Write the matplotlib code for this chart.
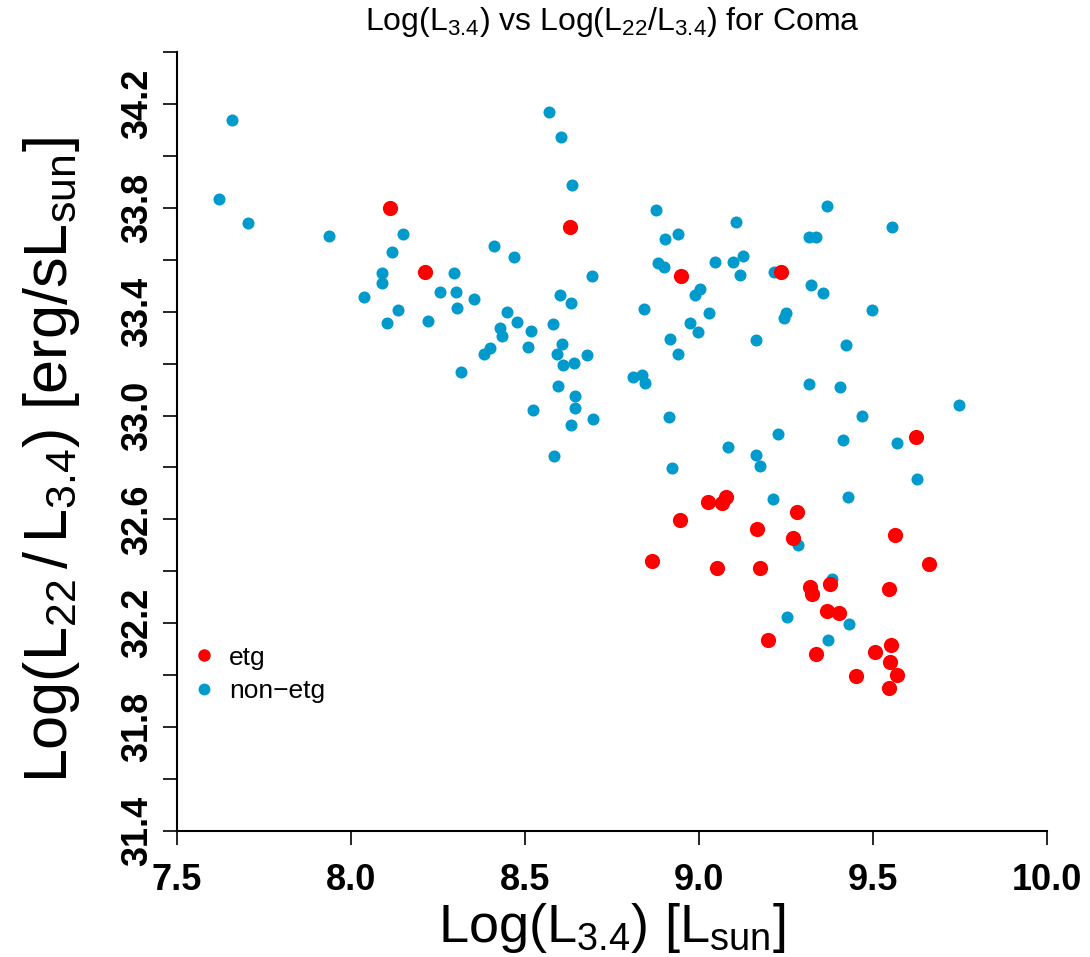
import numpy as np
import matplotlib
matplotlib.use('Agg')
import matplotlib.pyplot as plt
from matplotlib.lines import Line2D

plt.rcParams['font.family'] = ['Liberation Sans', 'DejaVu Sans']
plt.rcParams['mathtext.fontset'] = 'custom'
plt.rcParams['mathtext.rm'] = 'Liberation Sans'
plt.rcParams['mathtext.it'] = 'Liberation Sans:italic'
plt.rcParams['mathtext.bf'] = 'Liberation Sans:bold'

# early type galaxies
x_etg = [8.112, 8.214, 8.628, 8.947, 9.235, 9.623, 9.025, 9.065, 9.077, 9.283,
         8.946, 9.167, 9.270, 9.564, 8.866, 9.052, 9.176, 9.662, 9.376, 9.318,
         9.326, 9.547, 9.368, 9.401, 9.198, 9.551, 9.507, 9.337, 9.548, 9.569,
         9.451, 9.546]
y_etg = [33.800, 33.552, 33.726, 33.539, 33.552, 32.919, 32.666, 32.662, 32.688, 32.629,
         32.599, 32.563, 32.529, 32.540, 32.439, 32.412, 32.412, 32.430, 32.350, 32.341,
         32.314, 32.331, 32.249, 32.239, 32.136, 32.117, 32.089, 32.081, 32.049, 31.999,
         31.995, 31.951]

# everything else
x_non = [7.659, 7.621, 7.703, 7.937, 8.149, 8.117, 8.088, 8.090, 8.297, 8.036,
         8.135, 8.103, 8.222, 8.256, 8.301, 8.306, 8.316, 8.693, 9.118, 8.354,
         8.600, 8.633, 8.843, 9.003, 8.989, 9.028, 8.447, 8.476, 8.429, 8.434,
         8.518, 8.580, 8.509, 8.399, 8.381, 8.607, 8.591, 8.608, 8.640, 8.677,
         8.594, 8.644, 8.644, 8.522, 8.632, 8.694, 8.582, 8.918, 8.941, 8.975,
         8.997, 9.165, 8.809, 8.837, 8.845, 8.914, 9.084, 9.163, 9.175, 8.921,
         8.569, 8.604, 8.635, 8.412, 8.467, 8.875, 8.903, 8.940, 8.883, 8.899,
         9.107, 9.047, 9.099, 9.126, 9.368, 9.555, 9.316, 9.336, 9.216, 9.321,
         9.355, 9.251, 9.245, 9.496, 9.422, 9.315, 9.404, 9.747, 9.469, 9.226,
         9.415, 9.570, 9.627, 9.212, 9.428, 9.284, 9.382, 9.252, 9.430, 9.371]
y_non = [34.137, 33.835, 33.743, 33.693, 33.700, 33.630, 33.549, 33.512, 33.549, 33.457,
         33.408, 33.358, 33.363, 33.476, 33.477, 33.414, 33.169, 33.536, 33.541, 33.449,
         33.465, 33.435, 33.412, 33.487, 33.464, 33.395, 33.398, 33.360, 33.336, 33.306,
         33.324, 33.353, 33.265, 33.261, 33.236, 33.276, 33.237, 33.194, 33.201, 33.234,
         33.114, 33.074, 33.028, 33.020, 32.964, 32.986, 32.844, 33.294, 33.237, 33.358,
         33.322, 33.292, 33.150, 33.157, 33.124, 32.993, 32.879, 32.848, 32.807, 32.798,
         34.169, 34.074, 33.889, 33.654, 33.612, 33.792, 33.680, 33.700, 33.588, 33.572,
         33.745, 33.590, 33.590, 33.614, 33.807, 33.727, 33.686, 33.686, 33.552, 33.503,
         33.471, 33.394, 33.377, 33.405, 33.273, 33.122, 33.110, 33.040, 32.998, 32.929,
         32.906, 32.894, 32.756, 32.680, 32.685, 32.502, 32.370, 32.223, 32.196, 32.137]

red = '#FF0000'
blue = '#009ACD'

fig = plt.figure(figsize=(10.9, 9.57), dpi=100)
ax = fig.add_axes([177/1090, 1 - 831/957, 870/1090, 779/957])

ax.scatter(x_non, y_non, s=75, color=blue, linewidths=0, clip_on=False)
ax.scatter(x_etg, y_etg, s=120, color=red, linewidths=0, clip_on=False)

ax.set_xlim(7.5, 10.0)
ax.set_ylim(31.4, 34.4)
for s in ['top', 'right']:
    ax.spines[s].set_visible(False)
for s in ['left', 'bottom']:
    ax.spines[s].set_linewidth(1.5)

ax.set_xticks(np.arange(7.5, 10.01, 0.5))
ax.set_xticklabels(['%.1f' % v for v in np.arange(7.5, 10.01, 0.5)])
yt = np.arange(31.4, 34.41, 0.2)
ax.set_yticks(yt)
ax.set_yticklabels(['%.1f' % v if i % 2 == 0 else '' for i, v in enumerate(yt)])
ax.tick_params(direction='out', length=10, width=1.2, labelsize=26)
ax.tick_params(axis='x', pad=13)
ax.tick_params(axis='y', pad=6)
for lab in ax.get_xticklabels() + ax.get_yticklabels():
    lab.set_fontweight('bold')
for lab in ax.get_yticklabels():
    lab.set_rotation(90)
    lab.set_va('center')

ax.set_xlabel(r'Log(L$_{3.4}$) [L$_{\mathrm{sun}}$]', fontsize=39)
ax.xaxis.label.set_va('center')
ax.xaxis.set_label_coords(0.5, -0.125)
ax.set_ylabel(r'Log(L$_{22}\,/\,$L$_{3.4}$) [erg/sL$_{\mathrm{sun}}$]', fontsize=44)
ax.yaxis.label.set_va('center')
ax.yaxis.set_label_coords(-0.144, 0.476)

fig.text(612/1090, 1 - 22/957, r'Log(L$_{3.4}$) vs Log(L$_{22}$/L$_{3.4}$) for Coma',
         ha='center', va='center', fontsize=23)

handles = [Line2D([], [], marker='o', ls='none', color=red, markersize=9, markeredgewidth=0),
           Line2D([], [], marker='o', ls='none', color=blue, markersize=8.5, markeredgewidth=0)]
ax.legend(handles, ['etg', 'non\u2212etg'], loc='upper left', bbox_to_anchor=(0.016, 0.238),
          frameon=False, fontsize=19, handlelength=1.0, handletextpad=0.45,
          labelspacing=0.35, borderpad=0, borderaxespad=0)

fig.savefig('out.png', dpi=100)
